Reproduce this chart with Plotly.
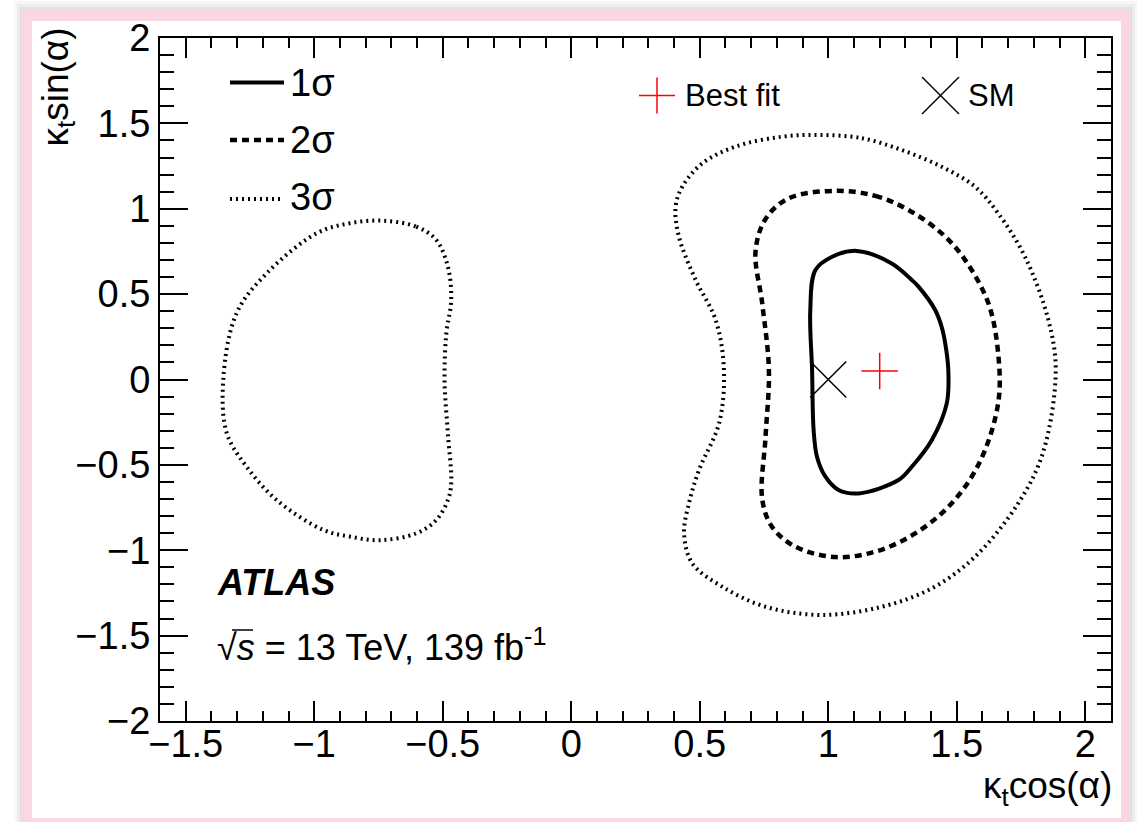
import plotly.graph_objects as go

W, H = 1137, 822

# Axis ranges and tick spacing
x_range = [-1.6, 2.1]
y_range = [-2.0, 2.0]
major_step = 0.5
minor_step = 0.1

# 1 sigma contour (closed, clockwise from the top)
c1_x = [1.111, 1.247, 1.325, 1.351, 1.416, 1.441, 1.455, 1.467, 1.461, 1.403,
        1.325, 1.273, 1.118, 1.040, 0.989, 0.956, 0.943, 0.937, 0.930, 0.950, 1.015]
c1_y = [0.753, 0.680, 0.583, 0.544, 0.407, 0.309, 0.212, 0.056, -0.140, -0.354,
        -0.511, -0.589, -0.667, -0.647, -0.569, -0.452, -0.296, 0.056, 0.407, 0.641, 0.719]

# 2 sigma contour
c2_x = [1.030, 1.183, 1.312, 1.441, 1.530, 1.623, 1.661, 1.661, 1.587, 1.474, 1.338,
        1.190, 1.030, 0.872, 0.781, 0.743, 0.756, 0.769, 0.743, 0.717, 0.756, 0.846]
c2_y = [1.105, 1.075, 0.993, 0.856, 0.705, 0.446, 0.153, -0.139, -0.491, -0.735, -0.901,
        -1.005, -1.040, -0.979, -0.862, -0.700, -0.335, 0.056, 0.446, 0.750, 0.940, 1.061]

# 3 sigma contour, right-hand island
c3r_x = [0.976, 1.131, 1.286, 1.441, 1.571, 1.661, 1.765, 1.856, 1.885, 1.835, 1.739,
         1.571, 1.403, 1.208, 0.976, 0.756, 0.587, 0.471, 0.439, 0.458, 0.497, 0.575,
         0.594, 0.562, 0.484, 0.419, 0.406, 0.432, 0.510, 0.639, 0.820]
c3r_y = [1.432, 1.413, 1.344, 1.246, 1.129, 0.973, 0.720, 0.350, 0.050, -0.430, -0.725,
         -1.038, -1.223, -1.331, -1.379, -1.331, -1.213, -1.077, -0.901, -0.725, -0.530, -0.257,
         0.056, 0.348, 0.583, 0.836, 1.012, 1.129, 1.266, 1.364, 1.422]

# 3 sigma contour, left-hand island
c3l_x = [-0.733, -0.603, -0.525, -0.480, -0.467, -0.486, -0.493, -0.480, -0.467, -0.480,
         -0.525, -0.603, -0.745, -0.862, -0.965, -1.146, -1.263, -1.340, -1.354, -1.302,
         -1.185, -0.991, -0.862]
c3l_y = [0.930, 0.895, 0.817, 0.661, 0.466, 0.271, -0.003, -0.315, -0.608, -0.706,
         -0.823, -0.901, -0.941, -0.920, -0.881, -0.706, -0.511, -0.315, -0.003, 0.388,
         0.622, 0.856, 0.915]

best_fit_x, best_fit_y = [1.20], [0.05]
sm_x, sm_y = [1.0], [0.0]

legend_labels = ["1σ", "2σ", "3σ"]

FONT = "Liberation Sans, Arial, Helvetica, sans-serif"

styles = {
    "1σ": dict(color="black", width=4),
    "2σ": dict(color="black", width=4.5, dash="7px,5px"),
    "3σ": dict(color="black", width=4, dash="2px,4px"),
}


def closed(xs, ys):
    return list(xs) + [xs[0]], list(ys) + [ys[0]]


fig = go.Figure()

for xs, ys, lab in [(c3l_x, c3l_y, "3σ"), (c3r_x, c3r_y, "3σ"),
                    (c2_x, c2_y, "2σ"), (c1_x, c1_y, "1σ")]:
    cx, cy = closed(xs, ys)
    fig.add_trace(go.Scatter(
        x=cx, y=cy, mode="lines", name=lab, hoverinfo="skip",
        line=dict(shape="spline", smoothing=1, **styles[lab]),
    ))

fig.add_trace(go.Scatter(
    x=sm_x, y=sm_y, mode="markers", name="SM",
    marker=dict(symbol="x-thin", size=36, color="black",
                line=dict(color="black", width=1.5)),
))
fig.add_trace(go.Scatter(
    x=best_fit_x, y=best_fit_y, mode="markers", name="Best fit",
    marker=dict(symbol="cross-thin", size=26, color="red",
                line=dict(color="red", width=1.5)),
))


def px(x):
    return x / W


def py(y):
    return 1 - y / H


shapes = []
# page frame: soft shadow, pink border, white canvas
for off, alpha in [(8, 0.03), (5, 0.04), (2, 0.05)]:
    shapes.append(dict(type="rect", xref="paper", yref="paper",
                       x0=px(22 - off), x1=px(1130 + off), y0=py(822), y1=py(9 - off),
                       fillcolor=f"rgba(0,0,0,{alpha})", line=dict(width=0), layer="below"))
shapes.append(dict(type="rect", xref="paper", yref="paper",
                   x0=px(22), x1=px(1130), y0=py(822), y1=py(9),
                   fillcolor="#fcd6e2", line=dict(width=0), layer="below"))
shapes.append(dict(type="rect", xref="paper", yref="paper",
                   x0=px(32), x1=px(1121), y0=py(818), y1=py(21),
                   fillcolor="white", line=dict(width=0), layer="below"))

# line legend samples
for lab, yy in zip(legend_labels, [82.5, 140, 199]):
    st = styles[lab]
    shapes.append(dict(type="line", xref="paper", yref="paper",
                       x0=px(230), x1=px(284), y0=py(yy), y1=py(yy),
                       line=dict(color="black", width=st["width"], dash=st.get("dash", "solid"))))

# marker legend symbols
bx, by, r = 657, 95.5, 18
shapes += [
    dict(type="line", xref="paper", yref="paper", x0=px(bx - r), x1=px(bx + r),
         y0=py(by), y1=py(by), line=dict(color="red", width=1.5)),
    dict(type="line", xref="paper", yref="paper", x0=px(bx), x1=px(bx),
         y0=py(by - r), y1=py(by + r), line=dict(color="red", width=1.5)),
]
sx, sy, r = 940.5, 95.5, 18.5
shapes += [
    dict(type="line", xref="paper", yref="paper", x0=px(sx - r), x1=px(sx + r),
         y0=py(sy - r), y1=py(sy + r), line=dict(color="black", width=1.5)),
    dict(type="line", xref="paper", yref="paper", x0=px(sx - r), x1=px(sx + r),
         y0=py(sy + r), y1=py(sy - r), line=dict(color="black", width=1.5)),
]
# overbar of the square root
shapes.append(dict(type="line", xref="paper", yref="paper", x0=px(232), x1=px(253),
                   y0=py(630), y1=py(630), line=dict(color="black", width=1.5)))

annotations = []


def text(x, y, s, size, xanchor="left", yanchor="middle", angle=0):
    annotations.append(dict(x=px(x), y=py(y), xref="paper", yref="paper", text=s,
                            showarrow=False, xanchor=xanchor, yanchor=yanchor,
                            textangle=angle,
                            font=dict(family=FONT, size=size, color="black")))


for lab, yy in zip(legend_labels, [82.5, 140, 197]):
    text(288, yy, lab, 38)
text(683, 95.5, "Best fit", 31)
text(966, 95.5, "SM", 31)
text(215, 582.5, "<b><i>ATLAS</i></b>", 36)
text(215, 645, "√<i>s</i> = 13 TeV, 139 fb<sup>-1</sup>", 36)
text(1114, 788, "κ<sub>t</sub>cos(α)", 37, xanchor="right")
text(58, 26, "κ<sub>t</sub>sin(α)", 37, xanchor="center", yanchor="top", angle=-90)

axis_common = dict(
    ticks="inside", tickwidth=2, tickcolor="black",
    showline=True, linewidth=2, linecolor="black", mirror="ticks",
    showgrid=False, zeroline=False, automargin=False,
    tickfont=dict(family=FONT, size=38, color="black"),
    tick0=0, dtick=major_step,
)

fig.update_layout(
    width=W, height=H,
    margin=dict(l=0, r=0, t=0, b=0, pad=0, autoexpand=False),
    paper_bgcolor="white", plot_bgcolor="rgba(0,0,0,0)",
    showlegend=False,
    xaxis=dict(range=x_range, domain=[160 / W, 1111 / W], ticklen=20,
               minor=dict(dtick=minor_step, tick0=0, ticklen=10, tickwidth=2,
                          tickcolor="black", ticks="inside"),
               ticklabelstandoff=-12, **axis_common),
    yaxis=dict(range=y_range, domain=[1 - 721 / H, 1 - 38 / H], ticklen=28,
               minor=dict(dtick=minor_step, tick0=0, ticklen=14, tickwidth=2,
                          tickcolor="black", ticks="inside"),
               ticklabelstandoff=0, **axis_common),
    shapes=shapes,
    annotations=annotations,
)

fig.write_html("out.html")
